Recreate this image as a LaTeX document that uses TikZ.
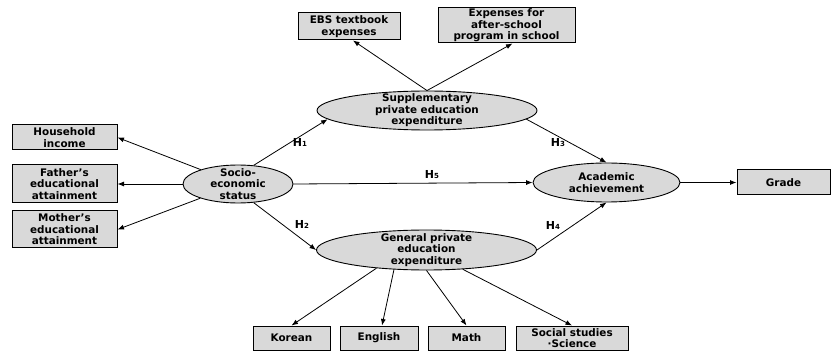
\documentclass[tikz,border=0pt]{standalone}
\usepackage{fontspec}
\setmainfont{DejaVu Sans}
\usetikzlibrary{shapes.geometric,arrows.meta}
\definecolor{fillg}{RGB}{217,217,217}
\begin{document}
\begin{tikzpicture}[x=1pt,y=-1pt,
  font=\fontsize{10.4}{11.4}\selectfont\bfseries,
  box/.style={draw,fill=fillg,line width=1pt,align=center,inner sep=0pt},
  lat/.style={draw,fill=fillg,ellipse,line width=0.9pt,inner sep=0pt},
  arr/.style={-{Latex[length=6.5pt,width=5pt]},line width=0.8pt},
  hl/.style={font=\fontsize{11}{12}\selectfont\bfseries,inner sep=0pt}]
\useasboundingbox (0,0) rectangle (834,352);
% observed boxes
\node[box,minimum width=105pt,minimum height=25pt] (hh) at (64.5,137.5) {Household\\income};
\node[box,minimum width=105pt,minimum height=38pt] (fa) at (64.5,184) {Father’s\\educational\\attainment};
\node[box,minimum width=105pt,minimum height=37pt] (mo) at (64.5,229.5) {Mother’s\\educational\\attainment};
\node[box,minimum width=102pt,minimum height=27pt] (ebs) at (349,26.5) {EBS textbook\\expenses};
\node[box,minimum width=137pt,minimum height=35pt] (exp) at (506.5,25.5) {Expenses for\\after-school\\program in school};
\node[box,minimum width=93pt,minimum height=25pt] (grade) at (783.5,182.5) {Grade};
\node[box,minimum width=77pt,minimum height=24pt] (kor) at (291.5,338) {Korean};
\node[box,minimum width=78pt,minimum height=24pt] (eng) at (379,338) {English};
\node[box,minimum width=77pt,minimum height=24pt] (math) at (466.5,338) {Math};
\node[box,minimum width=112pt,minimum height=24pt] (socsci) at (572,338) {Social studies\\·Science};
% latent ellipses
\node[lat,minimum width=110pt,minimum height=38pt,label={[align=center]center:Socio-\\economic\\status}] (soc) at (238,184) {};
\node[lat,minimum width=220pt,minimum height=39pt,label={[align=center]center:Supplementary\\private education\\expenditure}] (sup) at (427,110.5) {};
\node[lat,minimum width=220pt,minimum height=40pt,label={[align=center]center:General private\\education\\expenditure}] (gen) at (426.5,250) {};
\node[lat,minimum width=147pt,minimum height=39pt,label={[align=center]center:Academic\\achievement}] (acad) at (606.5,182.5) {};
% connectors
\draw[arr] (soc) -- (hh.east);
\draw[arr] (soc.west) -- (fa.east);
\draw[arr] (soc) -- (mo.east);
\draw[arr] (soc.50) -- (sup.185);
\draw[arr] (soc.-50) -- (gen.west);
\draw[arr] (sup.-5) -- (acad.north);
\draw[arr] (gen.east) -- (acad.south);
\draw[arr] (soc.east) -- (acad.west);
\draw[arr] (acad.east) -- (grade.west);
\draw[arr] (sup.north) -- ([xshift=4pt]ebs.south);
\draw[arr] (sup.north) -- ([xshift=6pt]exp.south);
\draw[arr] (gen.200) -- (kor.north);
\draw[arr] (gen.211) -- ([xshift=3pt]eng.north);
\draw[arr] (gen.south) -- (math.north);
\draw[arr] (gen.332) -- (socsci.north);
% hypothesis labels
\node[hl] (h1) at (300,142) {H{\fontsize{7}{8}\selectfont 1}};
\node[hl] (h2) at (302,224) {H{\fontsize{7}{8}\selectfont 2}};
\node[hl] (h3) at (558,143) {H{\fontsize{7}{8}\selectfont 3}};
\node[hl] (h4) at (553,225) {H{\fontsize{7}{8}\selectfont 4}};
\node[hl] (h5) at (432,175) {H{\fontsize{7}{8}\selectfont 5}};
\end{tikzpicture}
\end{document}
